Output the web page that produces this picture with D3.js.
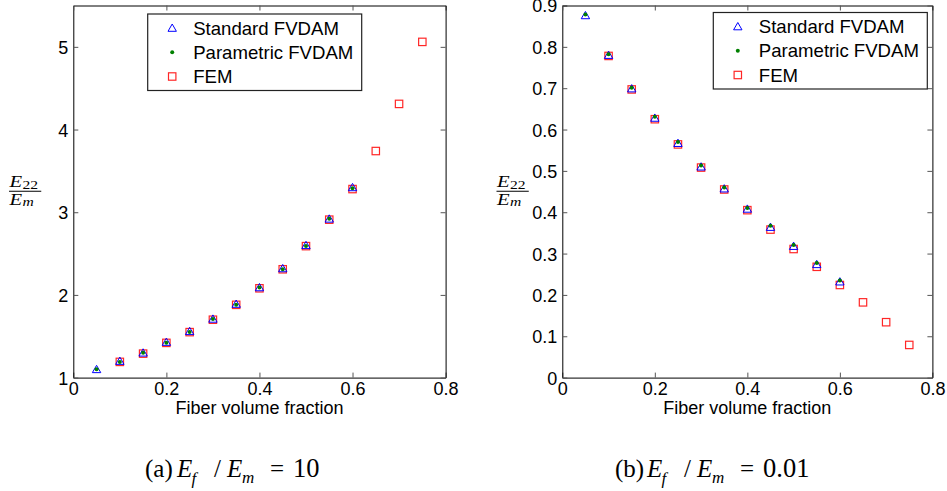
<!DOCTYPE html>
<html><head><meta charset="utf-8">
<script src="https://cdn.jsdelivr.net/npm/d3@7"></script>
<style>
html,body{margin:0;padding:0;background:#fff;}
svg{display:block;}
</style></head>
<body>
<script>
// ---- data ----
const xFVDAM = [0.05,0.10,0.15,0.20,0.25,0.30,0.35,0.40,0.45,0.50,0.55,0.60];
const xFEM   = [0.10,0.15,0.20,0.25,0.30,0.35,0.40,0.45,0.50,0.55,0.60,0.65,0.70,0.75];

// (a) Ef/Em = 10
const stdA = [1.10,1.20,1.30,1.43,1.56,1.71,1.89,2.09,2.32,2.60,2.92,3.30];
const parA = [1.10,1.19,1.30,1.42,1.55,1.71,1.88,2.09,2.31,2.59,2.92,3.29];
const femA = [1.19,1.29,1.42,1.55,1.70,1.88,2.08,2.31,2.59,2.91,3.28,3.74,4.31,5.06];

// (b) Ef/Em = 0.01
const stdB = [0.876,0.780,0.699,0.628,0.567,0.510,0.457,0.408,0.364,0.318,0.274,0.232];
const parB = [0.878,0.782,0.701,0.631,0.570,0.513,0.460,0.410,0.367,0.321,0.277,0.235];
const femB = [0.778,0.697,0.625,0.564,0.508,0.455,0.405,0.358,0.311,0.268,0.224,0.182,0.134,0.079];

const xTicks = [0,0.2,0.4,0.6,0.8];
const yTicksA = [1,2,3,4,5];
const yTicksB = [0,0.1,0.2,0.3,0.4,0.5,0.6,0.7,0.8,0.9];
const legendLabels = ["Standard FVDAM","Parametric FVDAM","FEM"];
const xLabel = "Fiber volume fraction";

const W = 947, H = 491;
const SANS = "Liberation Sans, Arial, sans-serif";
const SERIF = "Liberation Serif, Times New Roman, serif";
const svg = d3.select("body").append("svg").attr("width",W).attr("height",H)
  .attr("font-family",SANS);

const TOP = 5.5, BOTTOM = 377.6;

function tri(g, x, y, color){
  g.append("path").attr("d", d3.line()([[0,-4],[4.2,3.3],[-4.2,3.3]]) + "Z")
   .attr("transform",`translate(${x},${y})`)
   .attr("fill","none").attr("stroke",color).attr("stroke-width",1);
}
function sq(g, x, y, color){
  g.append("rect").attr("x",x-3.7).attr("y",y-3.7).attr("width",7.4).attr("height",7.4)
   .attr("fill","none").attr("stroke",color).attr("stroke-width",1.2).attr("stroke-opacity",0.85);
}
function dot(g, x, y, color){
  g.append("circle").attr("cx",x).attr("cy",y).attr("r",2).attr("fill",color);
}

function panel(opts){
  const {x0,x1,yDomain,yTicks,yFmt,std,par,fem,legend,ylab} = opts;
  const xs = d3.scaleLinear().domain([0,0.8]).range([x0,x1]);
  const ys = d3.scaleLinear().domain(yDomain).range([BOTTOM,TOP]);
  const g = svg.append("g");

  const ax = (axis, tr) => g.append("g").attr("transform",tr).call(axis);
  const bottom = ax(d3.axisBottom(xs).tickValues(xTicks).tickSizeInner(-5).tickSizeOuter(0).tickPadding(10).tickFormat(d=>d===0?"0":d3.format(".1f")(d)), `translate(0,${BOTTOM})`);
  const left = ax(d3.axisLeft(ys).tickValues(yTicks).tickSizeInner(-5).tickSizeOuter(0).tickPadding(10).tickFormat(yFmt), `translate(${x0},0)`);
  ax(d3.axisTop(xs).tickValues(xTicks).tickSizeInner(-5).tickSizeOuter(0).tickFormat(""), `translate(0,${TOP})`);
  ax(d3.axisRight(ys).tickValues(yTicks).tickSizeInner(-5).tickSizeOuter(0).tickFormat(""), `translate(${x1},0)`);
  g.selectAll(".domain").attr("stroke","#000").attr("stroke-width",1);
  g.selectAll(".tick line").attr("stroke","#555").attr("stroke-width",1);
  g.selectAll(".tick text").attr("font-size",18).attr("fill","#000").attr("font-family",SANS);
  bottom.selectAll(".tick text").attr("dy","0.71em").attr("y",5);
  left.selectAll(".tick text").attr("x",-5).attr("dy","0.36em");

  const mk = g.append("g");
  fem.forEach((v,i)=>sq(mk, xs(xFEM[i]), ys(v), "#ff0000"));
  std.forEach((v,i)=>tri(mk, xs(xFVDAM[i]), ys(v), "#0000ff"));
  par.forEach((v,i)=>dot(mk, xs(xFVDAM[i]), ys(v), "#008000"));

  g.append("text").attr("x",(x0+x1)/2).attr("y",414).attr("text-anchor","middle")
   .attr("font-size",18).attr("font-family",SANS).text(xLabel);

  const lg = g.append("g");
  lg.append("rect").attr("x",legend.x).attr("y",legend.y).attr("width",214).attr("height",76.5)
    .attr("fill","#fff").attr("stroke","#222").attr("stroke-width",1.2);
  const rows = [legend.y+14, legend.y+38.3, legend.y+62.5];
  tri(lg, legend.x+24.5, rows[0], "#0000ff");
  dot(lg, legend.x+24.5, rows[1], "#008000");
  sq(lg, legend.x+24.5, rows[2], "#ff0000");
  legendLabels.forEach((t,i)=>{
    lg.append("text").attr("x",legend.x+45.5).attr("y",rows[i]).attr("dy","0.36em")
      .attr("font-size",18.6).attr("font-family",SANS).text(t);
  });

  // y label (fraction), horizontally widened to mimic Computer Modern
  const yl = g.append("g").attr("transform",`translate(${ylab},0) scale(1.25,1)`);
  const t1 = yl.append("text").attr("x",0).attr("y",187).attr("font-size",16.5)
    .attr("font-family",SERIF).attr("font-style","italic");
  t1.append("tspan").text("E");
  t1.append("tspan").attr("font-size",12.5).attr("dy",2.5).attr("font-style","normal").attr("dx",0.3).text("22");
  yl.append("line").attr("x1",-0.4).attr("x2",25.4).attr("y1",191.3).attr("y2",191.3)
    .attr("stroke","#000").attr("stroke-width",1);
  const t2 = yl.append("text").attr("x",0).attr("y",205).attr("font-size",16.5)
    .attr("font-family",SERIF).attr("font-style","italic");
  t2.append("tspan").text("E");
  t2.append("tspan").attr("font-size",12.5).attr("dy",1).attr("dx",0.3).text("m");
}

panel({x0:73.3,x1:445.6,yDomain:[1,5.5],yTicks:yTicksA,yFmt:d3.format("d"),
  std:stdA,par:parA,fem:femA,legend:{x:147.7,y:14},ylab:9.5});
panel({x0:562.3,x1:932.4,yDomain:[0,0.9],yTicks:yTicksB,yFmt:d=>d===0?"0":d3.format(".1f")(d),
  std:stdB,par:parB,fem:femB,legend:{x:713.3,y:12.5},ylab:497});

// captions
function caption(x, lab, val){
  const c = svg.append("g").attr("fill","#000");
  const fs = 25;
  const put = (dx, y, s, size, italic) => c.append("text").attr("x",x+dx).attr("y",y)
     .attr("font-family",SERIF).attr("font-size",size)
     .attr("font-style",italic?"italic":"normal").text(s);
  put(0, 477, lab, fs, false);
  put(32, 477, "E", fs, true);
  put(46.5, 484, "f", 17, true);
  put(69, 477, "/", fs, false);
  put(82, 477, "E", fs, true);
  put(97, 483, "m", 17, true);
  put(125, 477, "=", fs, false);
  put(148, 477, val, 26.5, false);
}
caption(145, "(a)", "10");
caption(615, "(b)", "0.01");
</script>
</body></html>
